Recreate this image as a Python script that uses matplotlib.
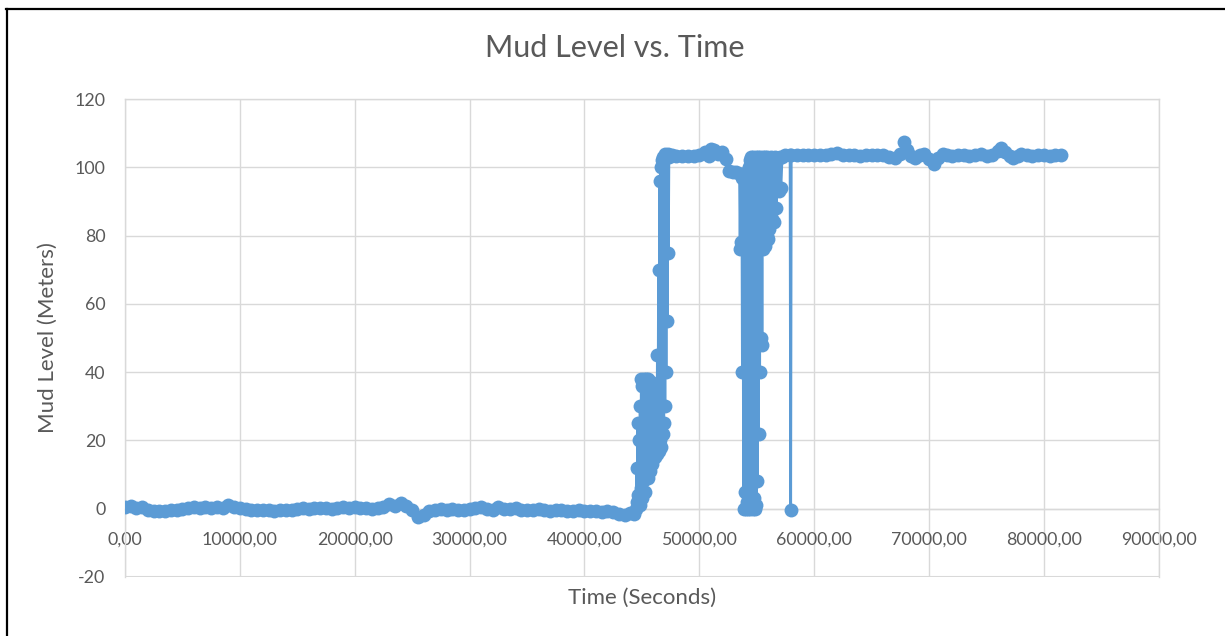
import matplotlib
matplotlib.use("Agg")
import matplotlib.pyplot as plt
from matplotlib.lines import Line2D
from matplotlib.ticker import FuncFormatter

# Time (s) and mud level (m)
low_time = [0, 500, 1000, 1500, 2000, 2500, 3000, 3500, 4000, 4500,
            5000, 5500, 6000, 6500, 7000, 7500, 8000, 8500, 9000, 9500,
            10000, 10500, 11000, 11500, 12000, 12500, 13000, 13500, 14000, 14500,
            15000, 15500, 16000, 16500, 17000, 17500, 18000, 18500, 19000, 19500,
            20000, 20500, 21000, 21500, 22000, 22500, 23000, 23500, 24000, 24500,
            25000, 25500, 26000, 26500, 27000, 27500, 28000, 28500, 29000, 29500,
            30000, 30500, 31000, 31500, 32000, 32500, 33000, 33500, 34000, 34500,
            35000, 35500, 36000, 36500, 37000, 37500, 38000, 38500, 39000, 39500,
            40000, 40500, 41000, 41500, 42000, 42500, 43000, 43500, 44000]
low_level = [0.5, 0.8, 0.3, 0.6, -0.5, -0.8, -0.6, -0.7, -0.4, -0.3,
             -0.2, 0.2, 0.5, 0.1, 0.4, 0.3, 0.6, 0.2, 1.0, 0.4,
             0.1, -0.2, -0.4, -0.3, -0.5, -0.4, -0.6, -0.5, -0.3, -0.4,
             -0.2, 0.1, 0.0, 0.2, 0.1, 0.3, 0.0, 0.2, 0.5, 0.3,
             0.4, 0.2, 0.1, 0.0, 0.3, 0.6, 1.5, 0.8, 1.6, 0.7,
             -0.5, -2.5, -1.8, -0.6, -0.3, 0.0, -0.4, -0.2, -0.5, -0.3,
             -0.1, 0.2, 0.5, 0.0, -0.3, 0.4, -0.2, 0.0, 0.3, -0.4,
             -0.3, -0.5, -0.2, -0.4, -0.6, -0.5, -0.3, -0.6, -0.7, -0.5,
             -0.6, -0.8, -0.7, -0.9, -0.8, -1.0, -1.6, -1.8, -1.2]

rise_time = [44300, 44500, 44550, 44600, 44650, 44700, 44750, 44800, 44850, 44900,
             44950, 45000, 45050, 45100, 45150, 45200, 45250, 45300, 45350, 45400,
             45450, 45500, 45550, 45600, 45650, 45700, 45750, 45800, 45850, 45900,
             45950, 46000, 46050, 46100, 46150, 46200, 46250, 46300, 46350, 46400,
             46450, 46500, 46550, 46600, 46650, 46700, 46750, 46800, 46850, 46900,
             46950, 47000, 47050, 47100, 47150, 47200, 47250, 47300, 47350, 47400,
             47600]
rise_level = [-1.5, 0, 12, 2, 25, 4, 20, 1, 30, 6,
              38, 3, 36, 8, 38, 10, 37, 5, 38, 12,
              36, 9, 38, 14, 35, 11, 37, 15, 33, 13,
              30, 16, 34, 15, 28, 17, 32, 16, 45, 18,
              70, 17, 96, 20, 100, 18, 102, 22, 103, 25,
              103, 30, 104, 40, 103, 55, 104, 75, 103, 103.5,
              103.5]

high_time = [48000, 48500, 49000, 49500, 50000, 50500, 50800, 51000, 51300, 51600,
             52000, 52300, 52600, 52900, 53200]
high_level = [103.2, 103.4, 103.3, 103.2, 103.5, 104.5, 103.2, 105.5, 105.2, 104.0,
              104.5, 102.5, 99.0, 98.5, 98.5]

drop_time = [53500, 53550, 53600, 53650, 53700, 53750, 53800, 53850, 53900, 53950,
             54000, 54050, 54100, 54150, 54200, 54250, 54300, 54350, 54400, 54450,
             54500, 54550, 54600, 54650, 54700, 54750, 54800, 54850, 54900, 54950,
             55000, 55050, 55100, 55150, 55200, 55250, 55300, 55350, 55400, 55450,
             55500, 55550, 55600, 55650, 55700, 55750, 55800, 55850, 55900, 55950,
             56000, 56100, 56200, 56300, 56400, 56500, 56600, 56700, 56800, 56900,
             57000, 57100, 57200, 57500, 57900, 57950, 58000]
drop_level = [98, 76, 98, 78, 97, 40, 98, 0, 97, 5,
              98, 0, 96, 2, 99, 0, 100, 1, 102, 0,
              103, 2, 102, 0, 103, 3, 102, 0, 103, 1,
              102, 8, 103, 22, 102, 40, 103, 50, 101, 48,
              103, 76, 102, 78, 103, 77, 101, 80, 103, 79,
              102, 82, 103, 85, 101, 84, 103, 88, 102, 93,
              103, 94, 103, 103.5, 103.5, -0.5, 103.5]

late_time = [58500, 59000, 59500, 60000, 60500, 61000, 61500, 62000, 62500, 63000,
             63500, 64000, 64500, 65000, 65500, 66000, 66500, 67000, 67500, 67800,
             68100, 68400, 68800, 69200, 69600, 70000, 70400, 70800, 71200, 71600,
             72000, 72500, 73000, 73500, 74000, 74500, 75000, 75500, 76000, 76300,
             76600, 77000, 77300, 77700, 78000, 78500, 79000, 79500, 80000, 80500,
             81000, 81500]
late_level = [103.6, 103.5, 103.6, 103.5, 103.6, 103.5, 103.8, 104.3, 103.6, 103.5,
              103.6, 103.4, 103.6, 103.5, 103.7, 103.6, 103.0, 102.8, 104.0, 107.5,
              105.0, 103.2, 102.6, 103.5, 103.8, 102.5, 101.0, 102.8, 103.8, 103.5,
              103.4, 103.6, 103.5, 103.3, 103.5, 104.0, 103.4, 103.7, 104.8, 105.8,
              104.5, 103.2, 102.6, 103.4, 104.0, 103.5, 103.3, 103.6, 103.7, 103.4,
              103.6, 103.5]

time_s = low_time + rise_time + high_time + drop_time + late_time
level_m = low_level + rise_level + high_level + drop_level + late_level

x_ticks = [0, 10000, 20000, 30000, 40000, 50000, 60000, 70000, 80000, 90000]
y_ticks = [-20, 0, 20, 40, 60, 80, 100, 120]

BLUE = "#5b9bd5"
GRID = "#d9d9d9"
TEXT = "#595959"

plt.rcParams["font.family"] = ["Lato", "DejaVu Sans"]

fig = plt.figure(figsize=(12.25, 6.36), dpi=100)
ax = fig.add_axes([0.102, 0.0928, 0.844, 0.7515])

ax.plot(time_s, level_m, color=BLUE, linewidth=2.0, marker="o",
        markersize=10, markeredgewidth=0, zorder=3)

ax.set_xlim(x_ticks[0], x_ticks[-1])
ax.set_ylim(y_ticks[0], y_ticks[-1])
ax.set_xticks(x_ticks)
ax.set_yticks(y_ticks)
ax.xaxis.set_major_formatter(FuncFormatter(lambda v, _: f"{v:.2f}".replace(".", ",")))
ax.yaxis.set_major_formatter(FuncFormatter(lambda v, _: f"{v:.0f}"))

ax.grid(True, color=GRID, linewidth=1.0, zorder=0)
ax.set_axisbelow(True)
for side in ["top", "right", "left", "bottom"]:
    ax.spines[side].set_color(GRID)
    ax.spines[side].set_linewidth(1.0)
# horizontal axis crosses at 0, like the spreadsheet chart
ax.spines["bottom"].set_position(("data", 0))
ax.axhline(y_ticks[0], color=GRID, linewidth=1.5, zorder=0)

ax.tick_params(axis="both", length=0, labelsize=12.8, labelcolor=TEXT)
ax.tick_params(axis="x", pad=16.5)
ax.tick_params(axis="y", pad=14)

fig.text(0.502, 0.9245, "Mud Level vs. Time", ha="center", va="center",
         fontsize=22, color=TEXT)
fig.text(0.524, 0.06, "Time (Seconds)", ha="center", va="center",
         fontsize=16, color=TEXT)
fig.text(0.039, 0.469, "Mud Level (Meters)", ha="center", va="center",
         rotation=90, fontsize=16, color=TEXT)

# black frame of the screenshot (top and left edges only)
fig.add_artist(Line2D([6 / 1225, 1], [1 - 9.3 / 636, 1 - 9.3 / 636],
                      color="black", linewidth=1.6))
fig.add_artist(Line2D([6.7 / 1225, 6.7 / 1225], [0, 1 - 9.3 / 636],
                      color="black", linewidth=1.6))

fig.savefig("out.png", dpi=100)
